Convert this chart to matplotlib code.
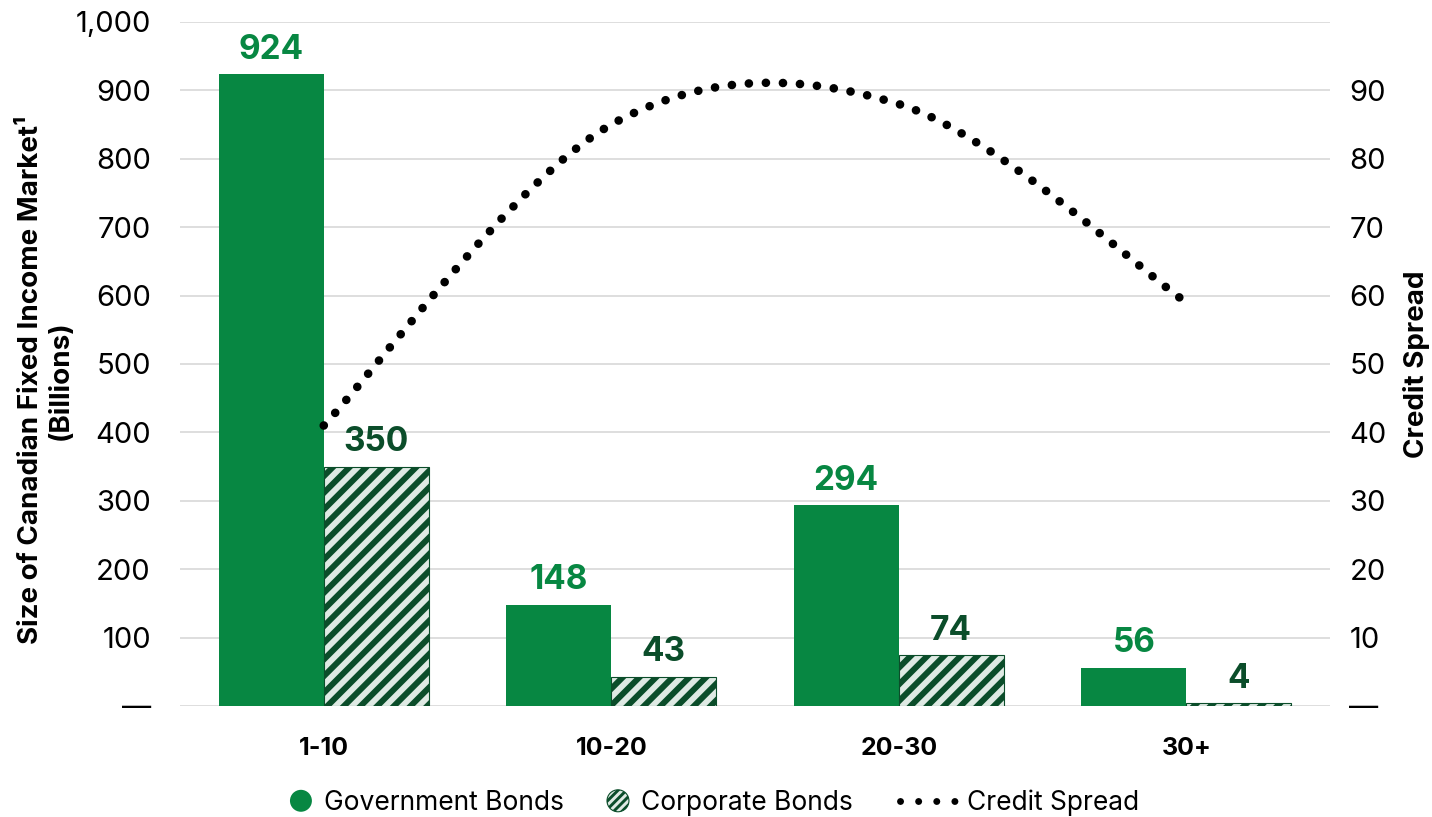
import matplotlib.pyplot as plt
import numpy as np
from matplotlib.path import Path
from matplotlib.patches import PathPatch, Circle
from matplotlib.lines import Line2D
from matplotlib.legend_handler import HandlerPatch

plt.rcParams['font.family'] = ['Inter', 'DejaVu Sans']
plt.rcParams['hatch.linewidth'] = 4.3

# data
categories = ['1-10', '10-20', '20-30', '30+']
government = [924, 148, 294, 56]
corporate = [350, 43, 74, 4]
credit_spread = [41, 85, 88, 59]
series_names = ['Government Bonds', 'Corporate Bonds', 'Credit Spread']

gov_green = '#078742'
dark_green = '#0b4d2a'
light_fill = '#dfeae4'
grid_gray = '#d4d4d4'

fig = plt.figure(figsize=(14.32, 8.17), dpi=100)
ax = fig.add_axes([0.1257, 0.1359, 0.8031, 0.8372])
ax2 = ax.twinx()

x = np.arange(len(categories))
w = 0.365
gov_bars = ax.bar(x - w / 2, government, w, color=gov_green, zorder=2)
corp_bars = ax.bar(x + w / 2, corporate, w, facecolor=light_fill, edgecolor=dark_green,
                   hatch='//', linewidth=0.8, zorder=2)

ax.bar_label(gov_bars, padding=6, color=gov_green, fontsize=24, fontweight='bold')
ax.bar_label(corp_bars, padding=6, color=dark_green, fontsize=24, fontweight='bold')

ax.set_xlim(-0.5, len(categories) - 0.5)
ax.set_ylim(0, 1000)
ax.set_yticks(range(0, 1001, 100))
ax.set_yticklabels(['\u2014'] + [f'{v:,}' for v in range(100, 1001, 100)])
ax.set_xticks(x)
ax.set_xticklabels(categories, fontweight='bold')
ax.yaxis.grid(True, color=grid_gray, linewidth=1.1)
ax.set_axisbelow(True)
ax.tick_params(axis='y', length=0, pad=21, labelsize=21)
ax.tick_params(axis='x', length=0, pad=22, labelsize=18)
ax.set_ylabel('Size of Canadian Fixed Income Market\u00b9\n(Billions)', fontsize=20,
              fontweight='bold', labelpad=1)
ax.yaxis.label.set_y(0.477)

ax2.set_ylim(0, 100)
ax2.set_yticks(range(0, 91, 10))
ax2.set_yticklabels(['\u2014'] + [str(v) for v in range(10, 91, 10)])
ax2.tick_params(axis='y', length=0, pad=14, labelsize=21)
ax2.set_ylabel('Credit Spread', fontsize=20, fontweight='bold', labelpad=12)

for a in (ax, ax2):
    for s in a.spines.values():
        s.set_visible(False)

# smoothed dotted line (bezier through the points, excel style)
xs = [x[0]] + list(x) + [x[-1]]
ys = [credit_spread[0]] + credit_spread + [credit_spread[-1]]
verts = [(x[0], credit_spread[0])]
codes = [Path.MOVETO]
for i in range(len(x) - 1):
    c1 = (xs[i + 1] + (xs[i + 2] - xs[i]) / 6, ys[i + 1] + (ys[i + 2] - ys[i]) / 6)
    c2 = (xs[i + 2] - (xs[i + 3] - xs[i + 1]) / 6, ys[i + 2] - (ys[i + 3] - ys[i + 1]) / 6)
    verts += [c1, c2, (xs[i + 2], ys[i + 2])]
    codes += [Path.CURVE4] * 3
spread_line = PathPatch(Path(verts, codes), fill=False, edgecolor='black', linewidth=6.2,
                        linestyle=(0, (0.01, 1.97)), capstyle='round', zorder=3)
ax2.add_patch(spread_line)

# thinner hatch for the small legend marker
plt.rcParams['hatch.linewidth'] = 2.1


def make_circle(legend, orig_handle, xdescent, ydescent, width, height, fontsize):
    c = Circle((width / 2 - xdescent, height / 2 - ydescent), radius=7.9)
    if hasattr(c, 'set_hatch_linewidth'):
        c.set_hatch_linewidth(2.1)
    return c


gov_handle = Circle((0, 0), 1, facecolor=gov_green, edgecolor='none')
corp_handle = Circle((0, 0), 1, facecolor=light_fill, edgecolor=dark_green, hatch='////',
                     linewidth=0.8)
if hasattr(corp_handle, 'set_hatch_linewidth'):
    corp_handle.set_hatch_linewidth(2.1)
line_handle = Line2D([], [], color='black', linewidth=5, linestyle=(0, (0.01, 2.6)),
                     dash_capstyle='round')

# three legend entries, placed separately so each handle keeps its own width
legend_x = [0.2025, 0.4239, 0.6285]
handle_len = [0.83, 0.83, 2.1]
for h, name, lx, hl in zip([gov_handle, corp_handle, line_handle], series_names,
                           legend_x, handle_len):
    fig.legend([h], [name], handler_map={Circle: HandlerPatch(patch_func=make_circle)},
               loc='center left', bbox_to_anchor=(lx, 0.0171), frameon=False,
               fontsize=19, handlelength=hl, handletextpad=0.45, borderpad=0,
               borderaxespad=0)

fig.savefig('out.png', dpi=100)
